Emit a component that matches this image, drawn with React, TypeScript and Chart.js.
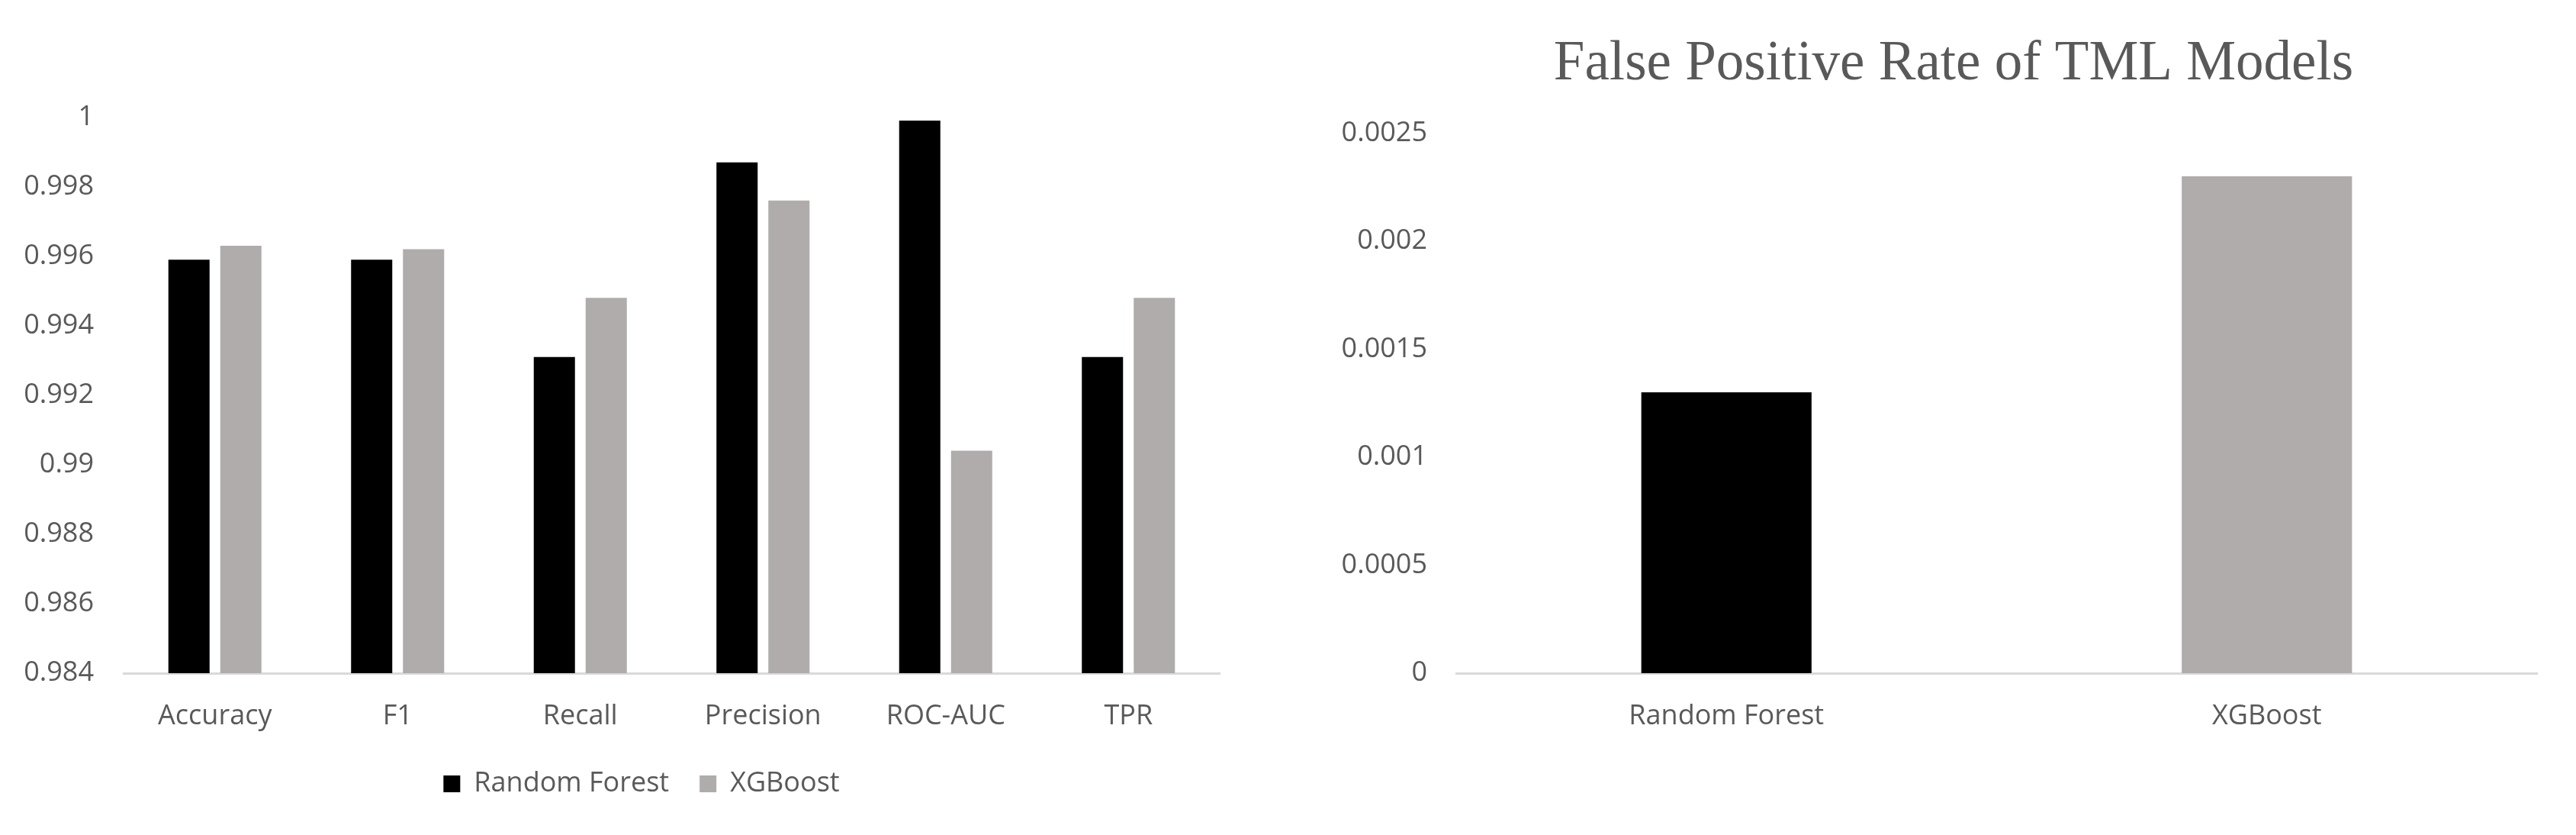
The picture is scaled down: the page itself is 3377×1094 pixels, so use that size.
import React, { useEffect, useRef } from "react";
import { Chart, registerables } from "chart.js";

Chart.register(...registerables);

// ---------- Data ----------
const metricCategories = ["Accuracy", "F1", "Recall", "Precision", "ROC-AUC", "TPR"];
const randomForestMetrics = [0.9959, 0.9959, 0.9931, 0.9987, 0.9999, 0.9931];
const xgboostMetrics = [0.9963, 0.9962, 0.9948, 0.9976, 0.9904, 0.9948];
const metricSeriesNames = ["Random Forest", "XGBoost"];
const metricAxisMin = 0.984;
const metricAxisMax = 1;
const metricAxisStep = 0.002;

const fprModels = ["Random Forest", "XGBoost"];
const fprValues = [0.0013, 0.0023];
const fprAxisMin = 0;
const fprAxisMax = 0.0025;
const fprAxisStep = 0.0005;
const fprTitle = "False Positive Rate of TML Models";

// ---------- Styles ----------
const BLACK = "#000000";
const GRAY = "#AFACAB";
const TEXT = "#595959";
const AXIS_LINE = "#D9D9D9";
const SANS = '"Open Sans", "Noto Sans", sans-serif';
const SERIF = '"Liberation Serif", "Times New Roman", serif';
const labelFont = { family: SANS, size: 36, weight: "normal" as const };

const fmt = (v: any) => String(Number(Number(v).toFixed(6)));

// invisible right-side spacer axis, used to reserve room on the right of the plot
const spacerAxis = (w: number) => ({
  position: "right" as const,
  display: true,
  grid: { display: false, drawTicks: false },
  border: { display: false },
  ticks: { display: false },
  afterFit: (s: any) => {
    s.width = w;
  },
});

function MetricsChart() {
  const ref = useRef<HTMLCanvasElement | null>(null);
  useEffect(() => {
    if (!ref.current) return;
    const chart = new Chart(ref.current, {
      type: "bar",
      data: {
        labels: metricCategories,
        datasets: [
          {
            label: metricSeriesNames[0],
            data: randomForestMetrics,
            backgroundColor: BLACK,
            categoryPercentage: 0.568,
            barPercentage: 0.794,
            yAxisID: "y",
          },
          {
            label: metricSeriesNames[1],
            data: xgboostMetrics,
            backgroundColor: GRAY,
            categoryPercentage: 0.568,
            barPercentage: 0.794,
            yAxisID: "y",
          },
        ],
      },
      options: {
        animation: false,
        responsive: false,
        devicePixelRatio: 1,
        layout: { padding: { left: 0, right: 0, top: 153.5, bottom: 39 } },
        plugins: {
          legend: {
            display: true,
            position: "bottom",
            labels: {
              font: labelFont,
              color: TEXT,
              boxWidth: 22,
              boxHeight: 22,
              padding: 40,
            },
          },
          title: { display: false },
          tooltip: { enabled: false },
        },
        scales: {
          x: {
            grid: { display: false, drawTicks: false },
            border: { display: true, color: AXIS_LINE, width: 3 },
            ticks: { font: labelFont, color: TEXT, padding: 35, maxRotation: 0, autoSkip: false },
            afterFit: (s: any) => {
              s.height = 87;
            },
          },
          y: {
            position: "left",
            min: metricAxisMin,
            max: metricAxisMax,
            grid: { display: false, drawTicks: false },
            border: { display: false },
            ticks: { stepSize: metricAxisStep, font: labelFont, color: TEXT, padding: 39, callback: fmt },
            afterFit: (s: any) => {
              s.width = 162;
            },
          },
          spacer: spacerAxis(83),
        },
      },
    });
    return () => chart.destroy();
  }, []);
  return (
    <canvas
      ref={ref}
      width={1682}
      height={1094}
      style={{ position: "absolute", left: 0, top: 0, width: 1682, height: 1094 }}
    />
  );
}

function FprChart() {
  const ref = useRef<HTMLCanvasElement | null>(null);
  useEffect(() => {
    if (!ref.current) return;
    const chart = new Chart(ref.current, {
      type: "bar",
      data: {
        labels: fprModels,
        datasets: [
          {
            label: "FPR",
            data: fprValues,
            backgroundColor: [BLACK, GRAY],
            categoryPercentage: 1,
            barPercentage: 0.315,
            yAxisID: "y",
          },
        ],
      },
      options: {
        animation: false,
        responsive: false,
        devicePixelRatio: 1,
        layout: { padding: { left: 0, right: 0, top: 0, bottom: 132 } },
        plugins: {
          legend: { display: false },
          title: {
            display: true,
            text: fprTitle,
            color: TEXT,
            font: { family: SERIF, size: 73, weight: "normal" },
            padding: { top: 41.2, bottom: 45.6 },
          },
          tooltip: { enabled: false },
        },
        scales: {
          x: {
            grid: { display: false, drawTicks: false },
            border: { display: true, color: AXIS_LINE, width: 3 },
            ticks: { font: labelFont, color: TEXT, padding: 35, maxRotation: 0, autoSkip: false },
            afterFit: (s: any) => {
              s.height = 80;
            },
          },
          y: {
            position: "left",
            min: fprAxisMin,
            max: fprAxisMax,
            grid: { display: false, drawTicks: false },
            border: { display: false },
            ticks: { stepSize: fprAxisStep, font: labelFont, color: TEXT, padding: 38, callback: fmt },
            afterFit: (s: any) => {
              s.width = 164;
            },
          },
          spacer: spacerAxis(51),
        },
      },
    });
    return () => chart.destroy();
  }, []);
  return (
    <canvas
      ref={ref}
      width={1632}
      height={1094}
      style={{ position: "absolute", left: 1745, top: 0, width: 1632, height: 1094 }}
    />
  );
}

export default function App() {
  useEffect(() => {
    document.body.style.margin = "0";
    document.body.style.overflow = "hidden";
  }, []);
  return (
    <div
      style={{
        position: "absolute",
        left: 0,
        top: 0,
        width: 3377,
        height: 1094,
        background: "#FFFFFF",
        overflow: "hidden",
      }}
    >
      <MetricsChart />
      <FprChart />
    </div>
  );
}
